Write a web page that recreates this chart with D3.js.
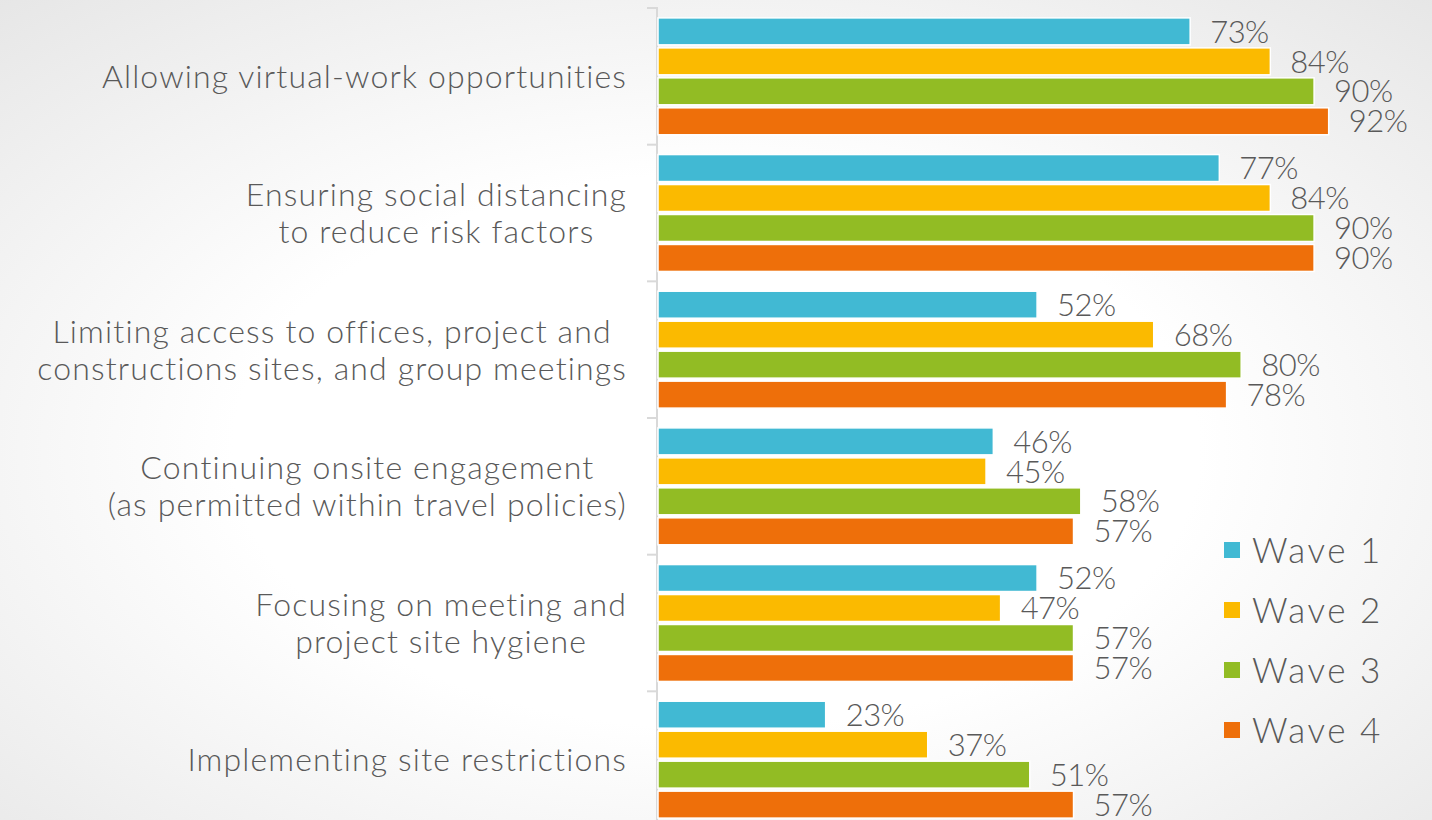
<!DOCTYPE html>
<html><head><meta charset="utf-8">
<script src="https://cdn.jsdelivr.net/npm/d3@7"></script>
<style>html,body{margin:0;padding:0;overflow:hidden;background:#fff}</style>
</head><body>
<svg id="c" width="1432" height="820"></svg>
<script>
const categories = [
  ["Allowing virtual-work opportunities"],
  ["Ensuring social distancing", "to reduce risk factors"],
  ["Limiting access to offices, project and", "constructions sites, and group meetings"],
  ["Continuing onsite engagement", "(as permitted within travel policies)"],
  ["Focusing on meeting and", "project site hygiene"],
  ["Implementing site restrictions"]
];
const seriesNames = ["Wave 1", "Wave 2", "Wave 3", "Wave 4"];
const wave1 = [73, 77, 52, 46, 52, 23];
const wave2 = [84, 84, 68, 45, 47, 37];
const wave3 = [90, 90, 80, 58, 57, 51];
const wave4 = [92, 90, 78, 57, 57, 57];
const colors = ["#41B9D3", "#FBBA00", "#92BC24", "#EE6F0A"];

const series = [wave1, wave2, wave3, wave4];
const svg = d3.select("#c");
const W = 1432, H = 820;
const font = "Lato, 'Open Sans', sans-serif";
const textColor = "#595959";

// background gradient
const defs = svg.append("defs");
const rg = defs.append("radialGradient").attr("id","bg").attr("cx","50%").attr("cy","55%").attr("r","75%");
rg.append("stop").attr("offset","45%").attr("stop-color","#ffffff");
rg.append("stop").attr("offset","100%").attr("stop-color","#e6e6e6");
svg.append("rect").attr("width",W).attr("height",H).attr("fill","url(#bg)");

const catIdx = categories.map((d,i)=>i);
const y = d3.scaleBand().domain(catIdx).range([8, 828]).paddingInner(0).paddingOuter(0);
const yInner = d3.scaleBand().domain(d3.range(series.length)).range([0, y.bandwidth()]).paddingInner(0.1).paddingOuter(0.33);
const x = d3.scaleLinear().domain([0, 100]).range([658, 1387]);

// axis
const axis = d3.axisLeft(y).tickSize(10).tickFormat("").tickSizeOuter(10);
const gAxis = svg.append("g").attr("transform", `translate(${x(0)-1},0)`).call(axis);
gAxis.selectAll(".tick").remove();
const bounds = catIdx.map(i => y(i)).concat([y(catIdx.length-1)+y.bandwidth()]);
gAxis.select(".domain").attr("stroke","#d9d9d9").attr("stroke-width",2);
gAxis.selectAll(".btick").data(bounds).join("line").attr("class","btick")
  .attr("x1",-10).attr("x2",0).attr("y1",d=>d).attr("y2",d=>d)
  .attr("stroke","#d9d9d9").attr("stroke-width",2);
gAxis.select(".domain").attr("d", `M-10,${bounds[0]}H0V${bounds[bounds.length-1]}H-10`);

// bars
const groups = svg.append("g").selectAll("g").data(catIdx).join("g")
  .attr("transform", i => `translate(0,${y(i)})`);
groups.each(function(ci){
  const g = d3.select(this);
  series.forEach((s, si) => {
    g.append("rect")
      .attr("x", x(0)).attr("y", yInner(si))
      .attr("width", x(s[ci]) - x(0)).attr("height", yInner.bandwidth())
      .attr("fill", colors[si]).attr("stroke","#ffffff").attr("stroke-width",1.5);
    g.append("text")
      .attr("x", x(s[ci]) + 20).attr("y", yInner(si) + yInner.bandwidth()/2)
      .attr("dy","0.36em")
      .attr("font-family", font).attr("font-size", 31).attr("font-weight",300)
      .attr("letter-spacing", -0.5)
      .attr("fill", textColor).text(s[ci] + "%");
  });
});

// category labels
const labelRight = 627, lineH = 37;
catIdx.forEach(ci => {
  const lines = categories[ci];
  const cy = y(ci) + y.bandwidth()/2;
  const g = svg.append("g");
  const ts = lines.map((l, li) => g.append("text")
    .attr("y", cy + (li - (lines.length-1)/2) * lineH)
    .attr("dy","0.36em")
    .attr("font-family", font).attr("font-size", 32).attr("font-weight",300)
    .attr("letter-spacing", 1.15)
    .attr("fill", textColor).attr("text-anchor","middle").text(l));
  const maxW = d3.max(ts, t => t.node().getComputedTextLength());
  ts.forEach(t => t.attr("x", labelRight - maxW/2));
});

// legend
const lg = svg.append("g");
seriesNames.forEach((n, i) => {
  const ly = 550 + i * 60;
  lg.append("rect").attr("x",1224).attr("y",ly-8).attr("width",16).attr("height",16).attr("fill",colors[i]);
  lg.append("text").attr("x",1252).attr("y",ly).attr("dy","0.36em")
    .attr("font-family", font).attr("font-size", 35).attr("font-weight",300)
    .attr("letter-spacing", 2.5)
    .attr("fill", textColor).text(n);
});
</script>
</body></html>
